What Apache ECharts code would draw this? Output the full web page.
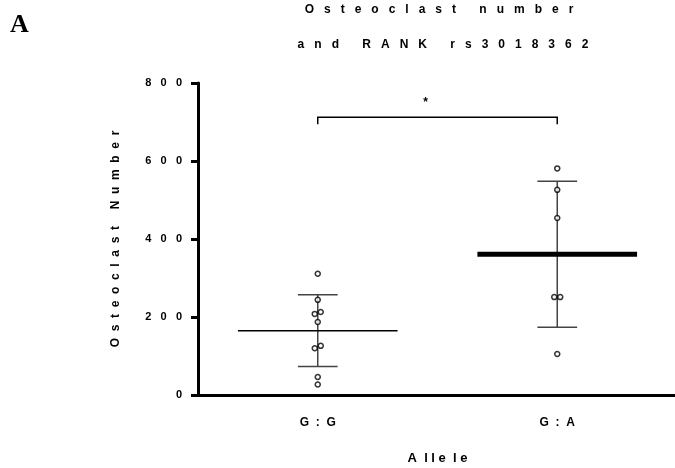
<!DOCTYPE html>
<html lang="en">
<head>
    <meta charset="UTF-8">
    <title>Osteoclast number and RANK rs3018362</title>
    <script src="https://cdn.jsdelivr.net/npm/echarts@6/dist/echarts.min.js"></script>
    <style>
        html, body { margin: 0; padding: 0; background: #fff; }
        #chart { width: 675px; height: 468px; }
    </style>
</head>
<body>
    <div id="chart"></div>
    <script>
        // data
        var categories = ['G:G', 'G:A'];
        var ggValues = [311, 244, 213, 208, 187, 126, 120, 46, 27];
        var gaValues = [581, 526, 454, 251, 251, 105];
        var means = [165, 361];
        var sds = [92, 187];
        var bracketValue = 712;

        // small sideways jitter (px) for overlapping dots
        var ggJitter = [0, 0, 3, -3, 0, 3, -3, 0, 0];
        var gaJitter = [0, 0, 0, -3, 3, 0];

        var font = '"Liberation Sans", Arial, sans-serif';

        // the original figure uses very wide letter spacing
        function spaced(s, n) {
            return s.split('').join(new Array(n + 1).join(' '));
        }

        function dots(idx, values, jitter) {
            return values.map(function (v, i) {
                return { value: [idx, v], symbolOffset: [jitter[i], 0] };
            });
        }

        var chart = echarts.init(document.getElementById('chart'));

        var option = {
            animation: false,
            backgroundColor: '#fff',
            graphic: [
                {
                    type: 'text',
                    left: 10,
                    top: 12,
                    style: {
                        text: 'A',
                        font: 'bold 26px "Liberation Serif", "Times New Roman", serif',
                        fill: '#000'
                    }
                },
                {
                    type: 'text',
                    x: 439,
                    y: 10,
                    style: {
                        text: spaced('Osteoclast number', 3),
                        font: 'bold 12px ' + font,
                        fill: '#000',
                        textAlign: 'center',
                        textVerticalAlign: 'middle'
                    }
                },
                {
                    type: 'text',
                    x: 443,
                    y: 45,
                    style: {
                        text: spaced('and RANK rs3018362', 3),
                        font: 'bold 12px ' + font,
                        fill: '#000',
                        textAlign: 'center',
                        textVerticalAlign: 'middle'
                    }
                }
            ],
            grid: {
                left: 198,
                right: -2,
                top: 83,
                bottom: 73,
                outerBoundsMode: 'none'
            },
            xAxis: {
                type: 'category',
                data: categories,
                name: 'A  l l e  l e',
                nameLocation: 'middle',
                nameGap: 57,
                nameTextStyle: { fontFamily: font, fontWeight: 'bold', fontSize: 13, color: '#000' },
                axisLine: { lineStyle: { color: '#000', width: 3 } },
                axisTick: { alignWithLabel: true, length: 7, lineStyle: { color: '#000', width: 3 } },
                axisLabel: {
                    margin: 22,
                    fontFamily: font,
                    fontWeight: 'bold',
                    fontSize: 12,
                    color: '#000',
                    formatter: function (v) { return spaced(v, 2); }
                },
                splitLine: { show: false }
            },
            yAxis: {
                type: 'value',
                min: 0,
                max: 800,
                interval: 200,
                name: spaced('Osteoclast Number', 2),
                nameLocation: 'middle',
                nameRotate: 90,
                nameGap: 76,
                nameTextStyle: { fontFamily: font, fontWeight: 'bold', fontSize: 12, color: '#000' },
                axisLine: { show: true, lineStyle: { color: '#000', width: 3 } },
                axisTick: { show: true, length: 7, lineStyle: { color: '#000', width: 3 } },
                axisLabel: {
                    margin: 16,
                    fontFamily: font,
                    fontWeight: 'bold',
                    fontSize: 11,
                    color: '#000',
                    formatter: function (v) { return spaced(String(v), 3); }
                },
                splitLine: { show: false }
            },
            series: [
                {
                    // mean line with +/- SD error bars
                    type: 'custom',
                    clip: false,
                    z: 2,
                    data: means.map(function (m, i) { return [i, m, sds[i]]; }),
                    renderItem: function (params, api) {
                        var i = api.value(0);
                        var m = api.value(1);
                        var s = api.value(2);
                        var c = api.coord([i, m]);
                        var top = api.coord([i, m + s]);
                        var bot = api.coord([i, m - s]);
                        var bw = api.size([1, 0])[0];
                        var cap = bw * 0.083;
                        var half = bw / 3;
                        var barStyle = { stroke: '#444', lineWidth: 1.5 };
                        return {
                            type: 'group',
                            children: [
                                { type: 'line', shape: { x1: top[0], y1: top[1], x2: bot[0], y2: bot[1] }, style: barStyle },
                                { type: 'line', shape: { x1: top[0] - cap, y1: top[1], x2: top[0] + cap, y2: top[1] }, style: barStyle },
                                { type: 'line', shape: { x1: bot[0] - cap, y1: bot[1], x2: bot[0] + cap, y2: bot[1] }, style: barStyle },
                                { type: 'line', shape: { x1: c[0] - half, y1: c[1], x2: c[0] + half, y2: c[1] },
                                  style: { stroke: '#000', lineWidth: i === 0 ? 1.5 : 5 } }
                            ]
                        };
                    }
                },
                {
                    type: 'scatter',
                    z: 5,
                    symbol: 'circle',
                    symbolSize: 5,
                    itemStyle: { color: '#fff', borderColor: '#000', borderWidth: 1.5 },
                    data: dots(0, ggValues, ggJitter).concat(dots(1, gaValues, gaJitter))
                },
                {
                    // significance bracket
                    type: 'custom',
                    clip: false,
                    z: 3,
                    data: [[0, 1, bracketValue]],
                    renderItem: function (params, api) {
                        var a = api.coord([api.value(0), api.value(2)]);
                        var b = api.coord([api.value(1), api.value(2)]);
                        return {
                            type: 'group',
                            children: [
                                { type: 'polyline',
                                  shape: { points: [[a[0], a[1] + 7], [a[0], a[1]], [b[0], b[1]], [b[0], b[1] + 7]] },
                                  style: { stroke: '#000', lineWidth: 1.5, fill: null } },
                                { type: 'text',
                                  style: { text: '*', x: (a[0] + b[0]) / 2 - 12, y: a[1] - 15,
                                           textAlign: 'center', textVerticalAlign: 'middle',
                                           font: 'bold 12px ' + font, fill: '#000' } }
                            ]
                        };
                    }
                }
            ]
        };

        chart.setOption(option);
    </script>
</body>
</html>
